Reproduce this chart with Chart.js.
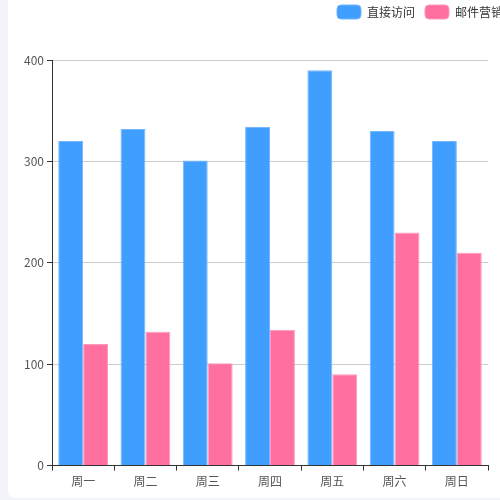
<!DOCTYPE html>
<html>
<head>
<meta charset="utf-8">
<script src="https://cdn.jsdelivr.net/npm/chart.js@4.4.0/dist/chart.umd.min.js"></script>
<style>
  html, body { margin: 0; padding: 0; background: #f3f4f9; overflow: hidden; }
  .card { position: absolute; left: 8px; top: 0; width: 520px; height: 498px; background: #fff; border-radius: 0 0 8px 8px; overflow: hidden; }
  #box { position: absolute; left: 0; top: -5px; width: 505px; height: 500px; }
</style>
</head>
<body>
<div class="card"><div id="box"><canvas id="chartBar"></canvas></div></div>
<script>
// данные графика
var days = ['周一', '周二', '周三', '周四', '周五', '周六', '周日'];
var directVisits = [320, 332, 301, 334, 390, 330, 320];
var emailMarketing = [120, 132, 101, 134, 90, 230, 210];
var seriesNames = ['直接访问', '邮件营销'];

Chart.defaults.font.family = '"Noto Sans CJK SC", "Noto Sans", sans-serif';
Chart.defaults.font.size = 12;
Chart.defaults.color = '#333';

// лишнее место под легендой
var legendGap = {
    id: 'legendGap',
    afterInit: function (chart) {
        var fit = chart.legend.fit;
        chart.legend.fit = function () {
            fit.call(this);
            this.height += 31;
        };
    }
};

var ourBar = document.getElementById('chartBar');

var barChart = new Chart(ourBar, {
    type: 'bar',
    data: {
        labels: days,
        datasets: [
            {
                label: seriesNames[0],
                data: directVisits,
                backgroundColor: '#409eff',
                borderColor: '#74b7ff',
                borderWidth: 1,
                borderSkipped: 'bottom'
            },
            {
                label: seriesNames[1],
                data: emailMarketing,
                backgroundColor: '#ff6fa0',
                borderColor: '#ff98bc',
                borderWidth: 1,
                borderSkipped: 'bottom'
            }
        ]
    },
    plugins: [legendGap],
    options: {
        responsive: true,
        maintainAspectRatio: false,
        animation: false,
        layout: { padding: { top: 0, bottom: 2 } },
        datasets: { bar: { categoryPercentage: 0.8, barPercentage: 1.0 } },
        plugins: {
            legend: {
                align: 'end',
                labels: {
                    boxWidth: 24,
                    boxHeight: 14,
                    padding: 10,
                    color: '#333',
                    useBorderRadius: true,
                    borderRadius: 4
                }
            },
            tooltip: { enabled: false }
        },
        scales: {
            x: {
                grid: { drawOnChartArea: false, drawTicks: true, tickLength: 5, tickColor: '#333' },
                border: { color: '#333' },
                ticks: { color: '#555', padding: 4 }
            },
            y: {
                min: 0,
                max: 400,
                grid: { color: '#ccc', tickLength: 5, tickColor: '#333' },
                border: { color: '#333' },
                ticks: { stepSize: 100, color: '#555', padding: 3 },
                afterFit: function (s) { s.width = 44; }
            },
            yRight: {
                position: 'right',
                display: true,
                grid: { display: false },
                border: { display: false },
                ticks: { display: false },
                afterFit: function (s) { s.width = 25; }
            }
        }
    }
});
</script>
</body>
</html>
